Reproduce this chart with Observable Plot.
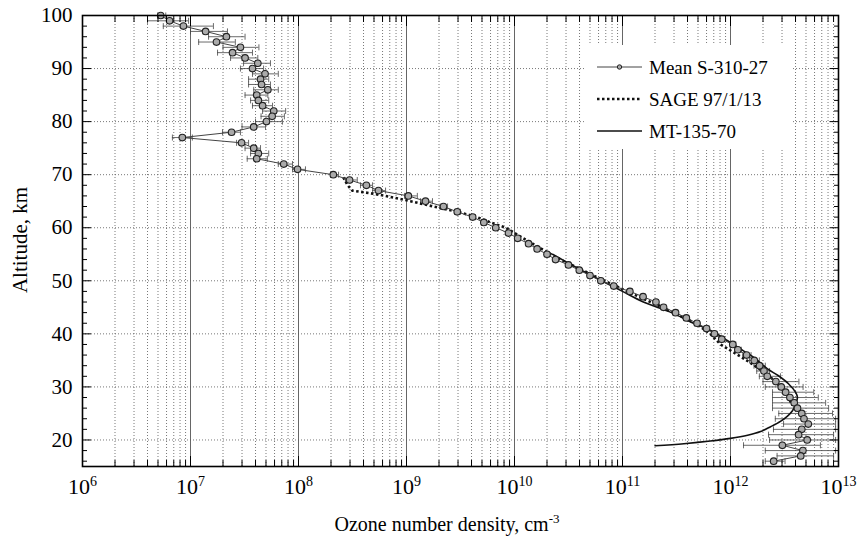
<!DOCTYPE html>
<html><head><meta charset="utf-8">
<script src="https://cdn.jsdelivr.net/npm/d3@7"></script>
<script src="https://cdn.jsdelivr.net/npm/@observablehq/plot@0.6"></script>
<style>
body{margin:0;background:#fff;}
#wrap{position:relative;width:859px;height:539px;font-family:"Liberation Serif",Tinos,"Nimbus Roman","Noto Serif",FreeSerif,"Times New Roman",Times,"DejaVu Serif",serif;}
#wrap svg text{font-family:"Liberation Serif",Tinos,"Nimbus Roman","Noto Serif",FreeSerif,"Times New Roman",Times,"DejaVu Serif",serif;}
#legend{position:absolute;left:585px;top:45px;width:208px;height:104px;background:#fff;}
#legend svg{position:absolute;left:0;top:0;}
</style></head><body><div id="wrap"><div id="legend"></div></div>
<script>
// ---- Mean S-310-27 (altitude km, density cm^-3, error bar low / high)
const altitude = [100,99,98,97,96,95,94,93,92,91,90,89,88,87,86,85,84,83,82,81,80,79,78,77,76,75,74,73,72,71,
  70,69,68,67,66,65,64,63,62,61,60,59,58,57,56,55,54,53,52,51,50,49,48,47,46,45,44,43,42,41,
  40,39,38,37,36,35,34,33,32,31,30,29,28,27,26,25,24,23,22,21,20,19,18,17,16];
const meanDensity = [5.3e6,6.4e6,8.6e6,1.38e7,2.15e7,1.74e7,2.9e7,2.45e7,3.2e7,4.2e7,3.75e7,4.9e7,4.45e7,4.55e7,5.2e7,4.1e7,4.25e7,4.65e7,5.9e7,5.7e7,5.05e7,3.85e7,2.4e7,8.4e6,2.97e7,3.85e7,4.25e7,4.1e7,7.3e7,9.8e7,
  2.1e8,2.97e8,4.25e8,5.5e8,1.04e9,1.5e9,2.2e9,2.95e9,4.1e9,5.2e9,6.7e9,8.8e9,1.07e10,1.35e10,1.62e10,2.0e10,2.4e10,3.16e10,3.98e10,5.0e10,6.3e10,8.3e10,1.17e11,1.55e11,2.04e11,2.4e11,3.1e11,3.9e11,4.9e11,6.0e11,
  7.1e11,8.3e11,1.05e12,1.17e12,1.41e12,1.66e12,1.86e12,2.04e12,2.19e12,2.63e12,2.95e12,3.24e12,3.55e12,3.89e12,4.17e12,4.57e12,4.79e12,5.25e12,4.57e12,4.27e12,5.13e12,3.02e12,4.68e12,4.47e12,2.51e12];
const errLow = [4.95e6,4.0e6,5.6e6,1.0e7,1.47e7,1.19e7,2.0e7,1.78e7,2.35e7,3.1e7,2.9e7,3.75e7,3.45e7,3.45e7,3.85e7,3.2e7,3.6e7,3.75e7,4.65e7,4.5e7,4.0e7,3.0e7,1.98e7,6.8e6,2.67e7,3.2e7,3.6e7,3.35e7,6.5e7,8.8e7,
  1.98e8,2.72e8,3.75e8,4.85e8,9.6e8,1.35e9,2.05e9,2.8e9,3.9e9,4.95e9,6.4e9,8.4e9,1.03e10,1.3e10,1.56e10,1.92e10,2.3e10,3.03e10,3.82e10,4.8e10,6.05e10,7.95e10,1.12e11,1.48e11,1.95e11,2.3e11,2.95e11,3.7e11,4.65e11,5.7e11,
  6.7e11,7.8e11,9.9e11,1.1e12,1.3e12,1.5e12,1.65e12,1.75e12,1.85e12,2.0e12,2.1e12,2.45e12,2.45e12,2.45e12,2.45e12,2.8e12,2.6e12,3.1e12,2.5e12,2.25e12,2.3e12,1.32e12,2.1e12,2.7e12,2.1e12];
const errHigh = [5.9e6,9.6e6,1.63e7,2.2e7,3.2e7,2.6e7,4.3e7,3.75e7,4.2e7,5.5e7,4.75e7,6.5e7,5.3e7,5.5e7,6.5e7,5.2e7,5.3e7,5.75e7,7.6e7,7.4e7,7.1e7,4.95e7,2.9e7,1.04e7,3.45e7,4.45e7,5.3e7,5.15e7,8.8e7,1.16e8,
  2.35e8,3.5e8,4.85e8,6.4e8,1.26e9,1.74e9,2.4e9,3.15e9,4.35e9,5.5e9,7.0e9,9.2e9,1.12e10,1.41e10,1.69e10,2.09e10,2.5e10,3.3e10,4.15e10,5.22e10,6.6e10,8.7e10,1.23e11,1.62e11,2.14e11,2.52e11,3.25e11,4.1e11,5.15e11,6.35e11,
  7.5e11,8.8e11,1.12e12,1.26e12,1.55e12,1.85e12,2.1e12,2.3e12,2.9e12,4.3e12,4.7e12,5.9e12,6.5e12,7.6e12,8.1e12,8.8e12,9.4e12,9.4e12,9.4e12,9.0e12,9.4e12,6.8e12,9.4e12,9.0e12,3.2e12];

// ---- SAGE 97/1/13
const sageAlt = [69.5,68,67,66.5,66,65.5,65,64,63,62,61,60,58,56,54,52,50,48,46,44,42,40,38,36.5,35,33.5,32,30,28,26.5];
const sageDensity = [2.6e8,2.85e8,3.15e8,4.6e8,6.4e8,8.4e8,1.09e9,1.78e9,2.97e9,4.5e9,6.0e9,8.3e9,1.21e10,1.78e10,2.67e10,4.26e10,6.8e10,1.11e11,1.82e11,2.97e11,4.74e11,6.5e11,8.1e11,1.07e12,1.41e12,1.82e12,2.3e12,2.9e12,3.44e12,3.75e12];

// ---- MT-135-70
const mtAlt = [55,52,50,48,46,44,42,41,39.6,38.7,36.8,35.6,33.4,32.1,30.6,29,28,26.8,25.5,24.5,23.5,22.5,21.6,20.9,20.3,19.8,19.3,18.9];
const mtDensity = [2.25e10,4.17e10,6.4e10,1.0e11,1.56e11,2.84e11,4.54e11,6.0e11,8.08e11,9.4e11,1.32e12,1.63e12,2.2e12,2.78e12,3.44e12,4.0e12,4.17e12,4.0e12,3.75e12,3.37e12,2.9e12,2.35e12,1.9e12,1.44e12,1.0e12,6.5e11,3.7e11,2.0e11];

// ---- axes
const xDecades = [1e6,1e7,1e8,1e9,1e10,1e11,1e12,1e13];
const yTicks = [20,30,40,50,60,70,80,90,100];
const yGrid = [20,30,40,50,60,70,80,90];
const yMinor = [16,18,22,24,26,28,32,34,36,38,42,44,46,48,52,54,56,58,62,64,66,68,72,74,76,78,82,84,86,88,92,94,96,98];

const mean = altitude.map((a,i)=>({alt:a, n:meanDensity[i], lo:errLow[i], hi:errHigh[i]}));
const sage = sageAlt.map((a,i)=>({alt:a, n:sageDensity[i]}));
const mt = mtAlt.map((a,i)=>({alt:a, n:mtDensity[i]}));

const xMinor = d3.scaleLog().domain([1e6,1e13]).ticks()
  .filter(v => Math.abs(Math.log10(v) - Math.round(Math.log10(v))) > 1e-6);

const capSymbol = {draw(ctx, size){ const h = Math.sqrt(size)/2; ctx.moveTo(0,-h); ctx.lineTo(0,h); }};
const blank = () => "";
const F = '"Liberation Serif",Tinos,"Nimbus Roman","Noto Serif",FreeSerif,"Times New Roman",Times,"DejaVu Serif",serif';

const chart = Plot.plot({
  width: 859, height: 539,
  marginLeft: 82, marginRight: 21, marginTop: 15, marginBottom: 73,
  x: {type: "log", domain: [1e6, 1e13], label: null},
  y: {domain: [15, 100], label: null},
  style: {fontFamily: F, background: "white", color: "black"},
  marks: [
    Plot.ruleX(xMinor, {stroke: "#555", strokeWidth: 0.8, strokeDasharray: "1,2"}),
    Plot.ruleX(xDecades.slice(1, -1), {stroke: "#666", strokeWidth: 1}),
    Plot.ruleY(yGrid, {stroke: "#555", strokeWidth: 0.8, strokeDasharray: "1,2"}),
    // error bars
    Plot.ruleY(mean, {y: "alt", x1: "lo", x2: "hi", stroke: "#444", strokeWidth: 0.8}),
    Plot.dot(mean, {x: "lo", y: "alt", symbol: capSymbol, r: 3.4, stroke: "#444", strokeWidth: 0.8, fill: "none"}),
    Plot.dot(mean, {x: "hi", y: "alt", symbol: capSymbol, r: 3.4, stroke: "#444", strokeWidth: 0.8, fill: "none"}),
    // profiles
    Plot.line(mt, {x: "n", y: "alt", stroke: "#111", strokeWidth: 1.6, curve: "catmull-rom"}),
    Plot.line(sage, {x: "n", y: "alt", stroke: "#111", strokeWidth: 2.6, strokeDasharray: "2.5,2.5", strokeLinecap: "butt"}),
    Plot.line(mean, {x: "n", y: "alt", stroke: "#444", strokeWidth: 1}),
    Plot.dot(mean, {x: "n", y: "alt", r: 3.3, fill: "#aaa", stroke: "#222", strokeWidth: 1.1}),
    // axes (inward ticks)
    Plot.axisX(xDecades, {anchor: "bottom", tickSize: -10, tickPadding: 22, fontSize: 22,
      tickFormat: d => String(Math.round(Math.log10(d))), ariaLabel: "xmajor"}),
    Plot.axisX(xMinor, {anchor: "bottom", tickSize: -6, tickFormat: blank}),
    Plot.axisX(xDecades, {anchor: "top", tickSize: -10, tickFormat: blank}),
    Plot.axisX(xMinor, {anchor: "top", tickSize: -6, tickFormat: blank}),
    Plot.axisY(yTicks, {anchor: "left", tickSize: -9, tickPadding: 19, fontSize: 21}),
    Plot.axisY(yMinor, {anchor: "left", tickSize: -5, tickFormat: blank}),
    Plot.axisY(yTicks, {anchor: "right", tickSize: -9, tickFormat: blank}),
    Plot.axisY(yMinor, {anchor: "right", tickSize: -5, tickFormat: blank}),
    Plot.frame({stroke: "black", strokeWidth: 1.6})
  ]
});

document.getElementById("wrap").prepend(chart);
const svg = d3.select(chart);

// superscript exponents on x tick labels
svg.selectAll("text").filter(function(){
    const s = d3.select(this).text();
    const p = this.parentNode.getAttribute("aria-label") || "";
    return /^\d+$/.test(s) && +s >= 6 && +s <= 13 && p.includes("x");
  })
  .each(function(){
    const t = d3.select(this); const e = t.text();
    t.text("10"); t.append("tspan").attr("dy", "-0.55em").attr("font-size", 14).text(e);
  });

// axis titles
svg.append("text").attr("x", 447).attr("y", 531).attr("text-anchor", "middle")
  .attr("font-size", 20).attr("fill", "black")
  .call(t => { t.append("tspan").text("Ozone number density, cm");
               t.append("tspan").attr("dy", "-0.6em").attr("font-size", 13).text("-3"); });
svg.append("text").attr("transform", "translate(27,240) rotate(-90)").attr("text-anchor", "middle")
  .attr("font-size", 21).attr("fill", "black").text("Altitude, km");

// legend
const lg = d3.select("#legend").append("svg").attr("width", 208).attr("height", 104);
const rows = [
  {label: "Mean S-310-27", y: 22, dash: null, w: 1, c: "#444", dot: true},
  {label: "SAGE 97/1/13", y: 54, dash: "2.5,2.5", w: 2.4, c: "#111", dot: false},
  {label: "MT-135-70", y: 86, dash: null, w: 1.5, c: "#111", dot: false}
];
rows.forEach(r => {
  lg.append("line").attr("x1", 12).attr("x2", 57).attr("y1", r.y).attr("y2", r.y)
    .attr("stroke", r.c).attr("stroke-width", r.w).attr("stroke-dasharray", r.dash);
  if (r.dot) lg.append("circle").attr("cx", 34.5).attr("cy", r.y).attr("r", 2.2).attr("fill", "#aaa").attr("stroke", "#222");
  lg.append("text").attr("x", 64).attr("y", r.y).attr("dy", "0.35em")
    .attr("font-size", 19).attr("fill", "black").text(r.label);
});
</script>
</body></html>
